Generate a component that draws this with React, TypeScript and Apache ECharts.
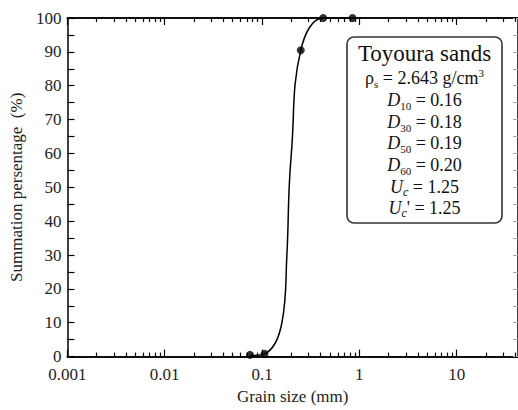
import React, { useEffect, useRef } from 'react';
import * as echarts from 'echarts';

// Measured points (grain size in mm, summation percentage)
const grainSize = [0.075, 0.106, 0.25, 0.425, 0.85];
const passing = [0.5, 0.8, 90.5, 100, 100];
const curveSize = [0.075, 0.106, 0.16, 0.18, 0.19, 0.2, 0.25, 0.425, 0.85];
const curvePassing = [0.3, 0.8, 10, 30, 50, 60, 90.5, 100, 100];
// Axis ticks
const xTickValues = [0.001, 0.01, 0.1, 1, 10];
const xTickLabels = ['0.001', '0.01', '0.1', '1', '10'];
const xMinorMultipliers = [2, 3, 4, 5, 6, 7, 8, 9];
const xMinLog = -3;
const xMaxLog = 1.63;

const FONT = "'Liberation Serif', 'Times New Roman', serif";

export default function App() {
  const ref = useRef<HTMLDivElement>(null);
  useEffect(() => {
    if (!ref.current) return;
    const chart = echarts.init(ref.current, undefined, { renderer: 'svg' });
    const lg = (v: number) => Math.log10(v);
    const majors = xTickValues.map(lg);
    const minors: number[] = [];
    xTickValues.forEach((d) => {
      xMinorMultipliers.forEach((k) => {
        const v = lg(d * k);
        if (v <= xMaxLog) minors.push(v);
      });
    });
    const labelMap: Record<string, string> = {};
    majors.forEach((m, i) => (labelMap[m.toFixed(3)] = xTickLabels[i]));

    const baseX = (pos: 'top' | 'bottom', customTicks: number[], len: number, labels: boolean, name?: string) => ({
      type: 'value',
      position: pos,
      min: xMinLog,
      max: xMaxLog,
      name: name,
      nameLocation: 'middle',
      nameGap: 30,
      nameTextStyle: { fontFamily: FONT, fontSize: 17, color: '#222' },
      axisLine: { show: true, onZero: false, lineStyle: { color: '#000', width: 1.5 } },
      axisTick: { show: true, inside: true, length: len, customValues: customTicks, lineStyle: { color: '#000', width: 1.2 } },
      axisLabel: labels
        ? {
            show: true,
            customValues: majors,
            margin: 11,
            lineHeight: 14,
            fontFamily: FONT,
            fontSize: 17,
            color: '#222',
            formatter: (v: number) => labelMap[v.toFixed(3)] ?? '',
          }
        : { show: false },
      splitLine: { show: false },
    });

    const richStyles = {
      n: { fontFamily: FONT, fontSize: 18, lineHeight: 22, color: '#111' },
      i: { fontFamily: FONT, fontSize: 18, fontStyle: 'italic', lineHeight: 22, color: '#111' },
      s: { fontFamily: FONT, fontSize: 11, lineHeight: 11, verticalAlign: 'bottom', color: '#111' },
      si: { fontFamily: FONT, fontSize: 12, fontStyle: 'italic', lineHeight: 11, verticalAlign: 'bottom', color: '#111' },
      sup: { fontFamily: FONT, fontSize: 11, lineHeight: 11, verticalAlign: 'top', color: '#111' },
    };

    const option: any = {
      animation: false,
      backgroundColor: '#fff',
      grid: { left: 61, right: -1, top: 18, bottom: 48, containLabel: false },
      xAxis: [
        baseX('bottom', majors, 7, true, 'Grain size (mm)'),
        baseX('top', majors, 7, false),
        baseX('bottom', minors, 4, false),
        baseX('top', minors, 4, false),
      ],
      yAxis: [
        {
          type: 'value',
          position: 'left',
          min: 0,
          max: 100,
          interval: 5,
          name: 'Summation persentage  (%)',
          nameLocation: 'middle',
          nameGap: 42,
          nameTextStyle: { fontFamily: FONT, fontSize: 17, color: '#222' },
          axisLine: { show: true, onZero: false, lineStyle: { color: '#000', width: 1.5 } },
          axisTick: { show: true, inside: true, length: 7, lineStyle: { color: '#000', width: 1.2 } },
          axisLabel: {
            fontFamily: FONT,
            fontSize: 17,
            lineHeight: 13,
            color: '#222',
            margin: 6,
            formatter: (v: number) => (v % 10 === 0 ? String(v) : ''),
          },
          splitLine: { show: false },
        },
        {
          type: 'value',
          position: 'right',
          min: 0,
          max: 100,
          interval: 5,
          axisLine: { show: true, onZero: false, lineStyle: { color: '#000', width: 1.5 } },
          axisTick: { show: true, inside: true, length: 5, lineStyle: { color: '#aaa', width: 1 } },
          axisLabel: { show: false },
          splitLine: { show: false },
        },
      ],
      series: [
        {
          type: 'line',
          data: curveSize.map((x, i) => [lg(x), curvePassing[i]]),
          smooth: 0.4,
          showSymbol: false,
          symbol: 'none',
          lineStyle: { color: '#000', width: 1.5 },
          clip: true,
          z: 3,
        },
        {
          type: 'scatter',
          data: grainSize.map((x, i) => [lg(x), passing[i]]),
          symbol: 'circle',
          symbolSize: 8,
          itemStyle: { color: '#000' },
          clip: false,
          z: 4,
        },
      ],
      graphic: [
        {
          type: 'group',
          children: [
            {
              type: 'rect',
              shape: { x: 347, y: 37, width: 155, height: 186, r: 7 },
              style: { fill: '#fff', stroke: '#333', lineWidth: 1.6 },
            },
            {
              type: 'text',
              style: {
                x: 424.5,
                y: 53,
                text: 'Toyoura sands',
                fontFamily: FONT,
                fontSize: 23,
                fill: '#111',
                align: 'center',
                verticalAlign: 'middle',
              },
            },
            ...[
              ['{n|ρ}{s|s}{n| = 2.643 g/cm}{sup|3}', 78],
              ['{i|D}{s|10}{n| = 0.16}', 100],
              ['{i|D}{s|30}{n| = 0.18}', 122],
              ['{i|D}{s|50}{n| = 0.19}', 143],
              ['{i|D}{s|60}{n| = 0.20}', 165],
              ['{i|U}{si|c}{n| = 1.25}', 187],
              ["{i|U}{si|c}{n|' = 1.25}", 208],
            ].map(([t, y]) => ({
              type: 'text',
              style: {
                x: 424.5,
                y: y as number,
                text: t as string,
                align: 'center',
                verticalAlign: 'middle',
                fontFamily: FONT,
                fontSize: 18,
                fill: '#111',
                rich: richStyles,
              },
            })),
          ],
        },
      ],
    };
    chart.setOption(option);
    return () => chart.dispose();
  }, []);
  return <div ref={ref} style={{ position: 'fixed', left: 0, top: 0, width: 518, height: 410 }} />;
}
